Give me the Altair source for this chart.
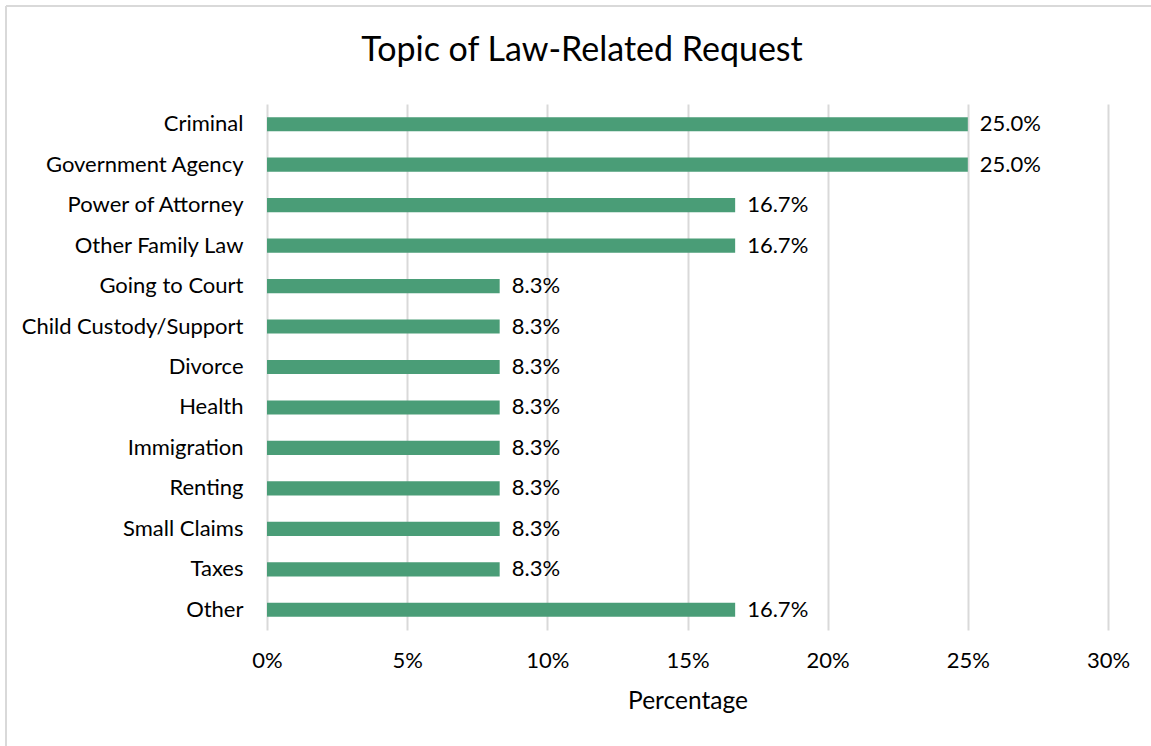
import altair as alt
import pandas as pd

categories = ["Criminal", "Government Agency", "Power of Attorney", "Other Family Law",
              "Going to Court", "Child Custody/Support", "Divorce", "Health",
              "Immigration", "Renting", "Small Claims", "Taxes", "Other"]
values = [25.0, 25.0, 16.7, 16.7, 8.3, 8.3, 8.3, 8.3, 8.3, 8.3, 8.3, 8.3, 16.7]
x_ticks = [0, 5, 10, 15, 20, 25, 30]
title_text = "Topic of Law-Related Request"

df = pd.DataFrame({"topic": categories, "pct": values})
df["label"] = [f"{v:.1f}%" for v in values]

FONT = "Lato"
W, H = 841, 526
PL, PT, PR, PB = 267, 104, 43, 116

base = alt.Chart(df)

bars = base.mark_bar(color="#4a9d77").encode(
    y=alt.Y("topic:N", sort=categories, title=None,
            scale=alt.Scale(paddingInner=0.65, paddingOuter=0.325),
            axis=alt.Axis(ticks=False, domain=False, grid=False, labelPadding=24,
                          labelLimit=400,
                          labelFontSize=22, labelColor="#000000", labelFont=FONT)),
    x=alt.X("pct:Q", title="Percentage",
            scale=alt.Scale(domain=[0, 30], nice=False),
            axis=alt.Axis(values=x_ticks, labelExpr="datum.value + '%'",
                          ticks=False, domain=False, grid=True, labelFlush=False,
                          gridColor="#d9d9d9", gridWidth=2,
                          labelPadding=20, labelFontSize=22, labelColor="#000000",
                          labelFont=FONT, titleFont=FONT, titleFontSize=24.5,
                          titleFontWeight="normal", titleColor="#000000",
                          titlePadding=18)),
)

text = base.mark_text(align="left", baseline="middle", dx=12, fontSize=22,
                      font=FONT, color="#000000").encode(
    y=alt.Y("topic:N", sort=categories),
    x="pct:Q",
    text="label:N",
)

title_df = pd.DataFrame({"t": [title_text]})
title_mark = alt.Chart(title_df).mark_text(
    align="center", baseline="middle", fontSize=34, font=FONT, color="#000000", clip=False
).encode(x=alt.value(582 - PL), y=alt.value(51 - PT), text="t:N")

border_top = alt.Chart(title_df).mark_rule(color="#d9d9d9", strokeWidth=2, clip=False).encode(
    x=alt.value(-261), x2=alt.value(W + PR + 10), y=alt.value(-98)
)
border_left = alt.Chart(title_df).mark_rule(color="#d9d9d9", strokeWidth=2, clip=False).encode(
    x=alt.value(-261), y=alt.value(-98), y2=alt.value(H + PB + 10)
)

chart = alt.layer(bars, text, title_mark, border_top, border_left).properties(
    width=W, height=H,
    padding={"left": PL, "top": PT, "right": PR, "bottom": PB},
    autosize=alt.AutoSizeParams(type="none"),
    background="white",
).configure_view(strokeWidth=0, stroke="transparent")

chart.save("out.html", embed_options={"renderer": "svg", "actions": False})
